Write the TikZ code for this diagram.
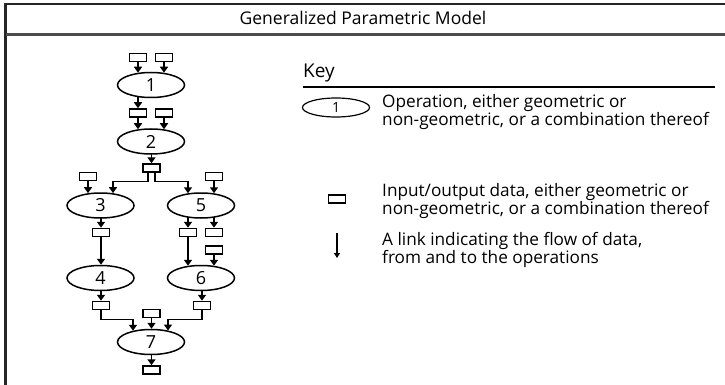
\documentclass[tikz,border=0pt]{standalone}
\usepackage{fontspec}
\setmainfont{Open Sans}
\usetikzlibrary{shapes.geometric,arrows.meta,backgrounds}
\begin{document}
\begin{tikzpicture}[x=1pt,y=-1pt,
  op/.style={ellipse,draw,line width=1.5pt,minimum width=67pt,minimum height=25pt,inner sep=0pt,fill=white,font=\fontsize{18}{18}\selectfont},
  keyop/.style={ellipse,draw,line width=1.2pt,minimum width=67pt,minimum height=19pt,inner sep=0pt,fill=white,font=\fontsize{14}{14}\selectfont},
  dat/.style={rectangle,draw,line width=1.5pt,minimum width=17pt,minimum height=8pt,inner sep=0pt,fill=white},
  link/.style={line width=1.5pt,-{Triangle[length=6pt,width=8pt]}},
  frame/.style={line width=2.2pt,draw=black!85},
  txt/.style={anchor=base west,inner sep=0pt,font=\fontsize{17.2}{18}\selectfont},
]
\useasboundingbox (0,0) rectangle (725,385);
% frame
\coordinate (fbl) at (5.5,385);
\coordinate (ftl) at (5.5,4);
\coordinate (ftr) at (725,4);
\coordinate (fhl) at (5.5,34.5);
\coordinate (fhr) at (725,34.5);
\draw[frame] (fbl) -- (ftl) -- (ftr);
\draw[line width=2.5pt,draw=black!70] (fhl) -- (fhr);
\node[anchor=base,inner sep=0pt,font=\fontsize{17.5}{18}\selectfont] (title) at (363,25) {Generalized Parametric Model};

% graph nodes
\node[dat] (i1a) at (138,57.5) {};
\node[dat] (i1b) at (164,57.5) {};
\node[op] (e1) at (151,85) {1};
\node[dat] (d1) at (138,113) {};
\node[dat] (i2) at (164,113) {};
\node[op] (e2) at (151,141.5) {2};
\node[dat] (d2) at (151.5,168) {};
\node[dat] (i3) at (88,176.5) {};
\node[dat] (i5) at (214,176.5) {};
\node[op] (e3) at (100.5,205.5) {3};
\node[op] (e5) at (201,205.5) {5};
\node[dat] (d3) at (101,232.5) {};
\node[dat] (d5a) at (188,232.5) {};
\node[dat] (d5b) at (214,232.5) {};
\node[dat] (i6) at (214,250) {};
\node[op] (e4) at (100.5,278) {4};
\node[op] (e6) at (201,278) {6};
\node[dat] (d4) at (101,305.5) {};
\node[dat] (d6) at (202,305.5) {};
\node[dat] (i7) at (151.5,313.5) {};
\node[op] (e7) at (151,342) {7};
\node[dat] (d7) at (151.5,370) {};

\begin{scope}[on background layer]
\draw[link] (i1a.south) -- ([yshift=-1pt]e1.north -| i1a);
\draw[link] (i1b.south) -- ([yshift=-1pt]e1.north -| i1b);
\draw[link] (e1.center -| d1) -- (d1.north);
\draw[link] (d1.south) -- ([yshift=-1pt]e2.north -| d1);
\draw[link] (i2.south) -- ([yshift=-1pt]e2.north -| i2);
\draw[link] (e2.center -| d2) -- (d2.north);
\draw[link] ([xshift=-3.5pt]d2.south) -- ++(0,8.5) -| ([xshift=12.5pt,yshift=-0.9pt]e3.north);
\draw[link] ([xshift=3.5pt]d2.south) -- ++(0,8.5) -| ([xshift=-13pt,yshift=-1pt]e5.north);
\draw[link] (i3.south) -- ([xshift=-12.5pt,yshift=-0.9pt]e3.north);
\draw[link] (i5.south) -- ([xshift=13pt,yshift=-1pt]e5.north);
\draw[link] (e3.center -| d3) -- (d3.north);
\draw[link] (d3.south) -- (e4.north -| d3);
\draw[link] (e5.center -| d5a) -- (d5a.north);
\draw[link] (e5.center -| d5b) -- (d5b.north);
\draw[link] (d5a.south) -- ([xshift=-13pt,yshift=-1pt]e6.north);
\draw[link] (i6.south) -- ([xshift=13pt,yshift=-1pt]e6.north);
\draw[link] (e4.center -| d4) -- (d4.north);
\draw[link] (e6.center -| d6) -- (d6.north);
\draw[link] (d4.south) -- ++(0,9) -| ([xshift=-18pt,yshift=-2pt]e7.north);
\draw[link] (d6.south) -- ++(0,9) -| ([xshift=17pt,yshift=-1.8pt]e7.north);
\draw[link] (i7.south) -- (e7.north -| i7);
\draw[link] (e7.center -| d7) -- (d7.north);
\end{scope}

% key
\node[anchor=base west,inner sep=0pt,font=\fontsize{19}{19}\selectfont] (keyt) at (303,78) {Key};
\coordinate (kl) at (303,87);
\coordinate (kr) at (715,87);
\draw[line width=1.3pt] (kl) -- (kr);
\node[keyop] (ke) at (336,107.5) {1};
\node[txt] (t1a) at (382,107.5) {Operation, either geometric or};
\node[txt] (t1b) at (382,125.5) {non-geometric, or a combination thereof};
\node[dat,line width=1.3pt] (kd) at (337,199) {};
\node[txt] (t2a) at (382,196) {Input/output data, either geometric or};
\node[txt] (t2b) at (382,214) {non-geometric, or a combination thereof};
\coordinate (ka) at (337,233);
\coordinate (kb) at (337,258);
\draw[line width=1.2pt,-{Triangle[length=5pt,width=6pt]}] (ka) -- (kb);
\node[txt] (t3a) at (382,245) {A link indicating the flow of data,};
\node[txt] (t3b) at (382,263) {from and to the operations};
\end{tikzpicture}
\end{document}
